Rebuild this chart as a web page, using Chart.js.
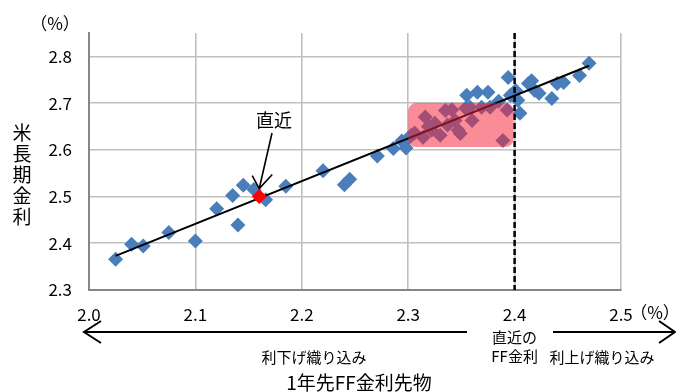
<!DOCTYPE html>
<html>
<head>
<meta charset="utf-8">
<script src="https://cdn.jsdelivr.net/npm/chart.js@4.4.1/dist/chart.umd.min.js"></script>
<style>
  html, body { margin: 0; padding: 0; background: #fff; }
  #wrap { width: 676px; height: 392px; position: relative; }
</style>
</head>
<body>
<div id="wrap"><canvas id="c"></canvas></div>
<script>
// 1年先FF金利先物 (x) vs 米長期金利 (y)
const ffFutures = [
    2.025, 2.040, 2.051, 2.075, 2.100, 2.120, 2.135, 2.140, 2.145, 2.155,
    2.166, 2.185, 2.220, 2.240, 2.245, 2.271, 2.286, 2.294, 2.298, 2.300,
    2.303, 2.306, 2.314, 2.316, 2.319, 2.322, 2.325, 2.330, 2.335, 2.337,
    2.341, 2.344, 2.347, 2.349, 2.354, 2.355, 2.358, 2.360, 2.365, 2.369,
    2.375, 2.377, 2.385, 2.389, 2.393, 2.394, 2.396, 2.399, 2.401, 2.403,
    2.405, 2.413, 2.416, 2.419, 2.423, 2.435, 2.440, 2.446, 2.461, 2.470
];
const longRates = [
    2.366, 2.398, 2.394, 2.423, 2.405, 2.474, 2.502, 2.439, 2.524, 2.515,
    2.493, 2.522, 2.555, 2.525, 2.537, 2.587, 2.603, 2.619, 2.604, 2.625,
    2.631, 2.636, 2.627, 2.670, 2.650, 2.642, 2.657, 2.631, 2.684, 2.653,
    2.686, 2.663, 2.642, 2.635, 2.689, 2.717, 2.691, 2.663, 2.723, 2.691,
    2.723, 2.691, 2.704, 2.620, 2.685, 2.755, 2.717, 2.721, 2.727, 2.706,
    2.678, 2.742, 2.748, 2.727, 2.721, 2.710, 2.742, 2.744, 2.759, 2.785
];
const latestX = [2.16];
const latestY = [2.50];
const trendX = [2.025, 2.470];
const trendY = [2.373, 2.780];
const currentFF = 2.4;
const boxX = [2.300, 2.399];
const boxY = [2.606, 2.700];
const xTicks = [2.0, 2.1, 2.2, 2.3, 2.4, 2.5];
const yTicks = [2.3, 2.4, 2.5, 2.6, 2.7, 2.8];

const FONT = '"Noto Sans CJK JP", "Noto Sans", sans-serif';

function pairs(xs, ys) {
    return xs.map((x, i) => ({ x: x, y: ys[i] }));
}

const decor = {
    id: 'decor',
    afterDatasetsDraw(chart) {
        const ctx = chart.ctx;
        const xs = chart.scales.x, ys = chart.scales.y;
        const area = chart.chartArea;

        // shaded box
        const l = xs.getPixelForValue(boxX[0]), r = xs.getPixelForValue(boxX[1]);
        const t = ys.getPixelForValue(boxY[1]), b = ys.getPixelForValue(boxY[0]);
        ctx.save();
        ctx.fillStyle = 'rgba(245, 35, 55, 0.52)';
        ctx.beginPath();
        ctx.roundRect(l, t, r - l, b - t, 8);
        ctx.fill();
        ctx.restore();

        // dashed line at current FF rate
        const dx = xs.getPixelForValue(currentFF);
        ctx.save();
        ctx.strokeStyle = '#000';
        ctx.lineWidth = 2.5;
        ctx.setLineDash([6, 3]);
        ctx.beginPath();
        ctx.moveTo(dx, area.top);
        ctx.lineTo(dx, area.bottom);
        ctx.stroke();
        ctx.restore();
    },
    afterDraw(chart) {
        const ctx = chart.ctx;
        const xs = chart.scales.x, ys = chart.scales.y;
        ctx.save();
        ctx.fillStyle = '#000';
        ctx.strokeStyle = '#000';
        ctx.textAlign = 'center';
        ctx.textBaseline = 'middle';

        // (%) units
        ctx.font = '17px ' + FONT;
        ctx.fillText('（%）', 55, 24);
        ctx.fillText('（%）', 655, 313);

        // y title, stacked
        ctx.font = '19px ' + FONT;
        '米長期金利'.split('').forEach((ch, i) => ctx.fillText(ch, 22, 133 + i * 21));

        // latest marker label + arrow
        const px = xs.getPixelForValue(latestX[0]);
        const py = ys.getPixelForValue(latestY[0]);
        ctx.font = '18px ' + FONT;
        ctx.fillText('直近', 274, 120);
        ctx.lineWidth = 1.6;
        ctx.beginPath();
        ctx.moveTo(272, 133);
        ctx.lineTo(px, py - 8);
        ctx.moveTo(px - 7, py - 21);
        ctx.lineTo(px, py - 8);
        ctx.lineTo(px + 13, py - 22);
        ctx.stroke();

        // arrows below axis
        const ay = 332;
        ctx.lineWidth = 2;
        ctx.beginPath();
        ctx.moveTo(467, ay);
        ctx.lineTo(84, ay);
        ctx.moveTo(101, ay - 11);
        ctx.lineTo(84, ay);
        ctx.lineTo(101, ay + 11);
        ctx.moveTo(553, ay);
        ctx.lineTo(675, ay);
        ctx.moveTo(659, ay - 11);
        ctx.lineTo(675, ay);
        ctx.lineTo(659, ay + 11);
        ctx.stroke();

        const cx = xs.getPixelForValue(currentFF);
        ctx.font = '15px ' + FONT;
        ctx.fillText('直近の', cx, 337);
        ctx.fillText('FF金利', cx, 356);
        ctx.fillText('利下げ織り込み', 314, 357);
        ctx.fillText('利上げ織り込み', 602, 357);

        ctx.font = '19px ' + FONT;
        ctx.fillText('1年先FF金利先物', 359, 383);
        ctx.restore();
    }
};

new Chart(document.getElementById('c'), {
    type: 'scatter',
    data: {
        datasets: [
            {
                label: '直近',
                data: pairs(latestX, latestY),
                pointStyle: 'rectRot',
                pointRadius: 7.5,
                pointBorderWidth: 0,
                backgroundColor: '#ff0000',
                order: 0
            },
            {
                type: 'line',
                label: 'trend',
                data: pairs(trendX, trendY),
                borderColor: '#000',
                borderWidth: 2,
                pointRadius: 0,
                fill: false,
                order: 1
            },
            {
                label: 'data',
                data: pairs(ffFutures, longRates),
                pointStyle: 'rectRot',
                pointRadius: 7.5,
                pointBorderWidth: 0,
                backgroundColor: '#4a7ebb',
                order: 2
            }
        ]
    },
    options: {
        responsive: true,
        maintainAspectRatio: false,
        animation: false,
        layout: { padding: { top: 33, right: 55, left: 0, bottom: 0 } },
        plugins: {
            legend: { display: false },
            tooltip: { enabled: false }
        },
        scales: {
            x: {
                type: 'linear',
                min: xTicks[0],
                max: xTicks[xTicks.length - 1],
                afterBuildTicks: (s) => { s.ticks = xTicks.map(v => ({ value: v })); },
                afterFit: (s) => { s.height = 102; },
                grid: { color: '#c0c0c0', lineWidth: 1.6, drawTicks: false },
                border: { color: '#868686', width: 2 },
                ticks: {
                    padding: 14,
                    color: '#000',
                    font: { size: 17, family: FONT },
                    callback: (v) => Number(v).toFixed(1)
                }
            },
            y: {
                type: 'linear',
                min: yTicks[0],
                max: 2.85,
                afterBuildTicks: (s) => { s.ticks = yTicks.map(v => ({ value: v })); },
                afterFit: (s) => { s.width = 89; },
                grid: { color: '#c0c0c0', lineWidth: 1.6, drawTicks: false },
                border: { color: '#868686', width: 2 },
                ticks: {
                    padding: 17,
                    color: '#000',
                    font: { size: 17, family: FONT },
                    callback: (v) => Number(v).toFixed(1)
                }
            }
        }
    },
    plugins: [decor]
});
</script>
</body>
</html>
